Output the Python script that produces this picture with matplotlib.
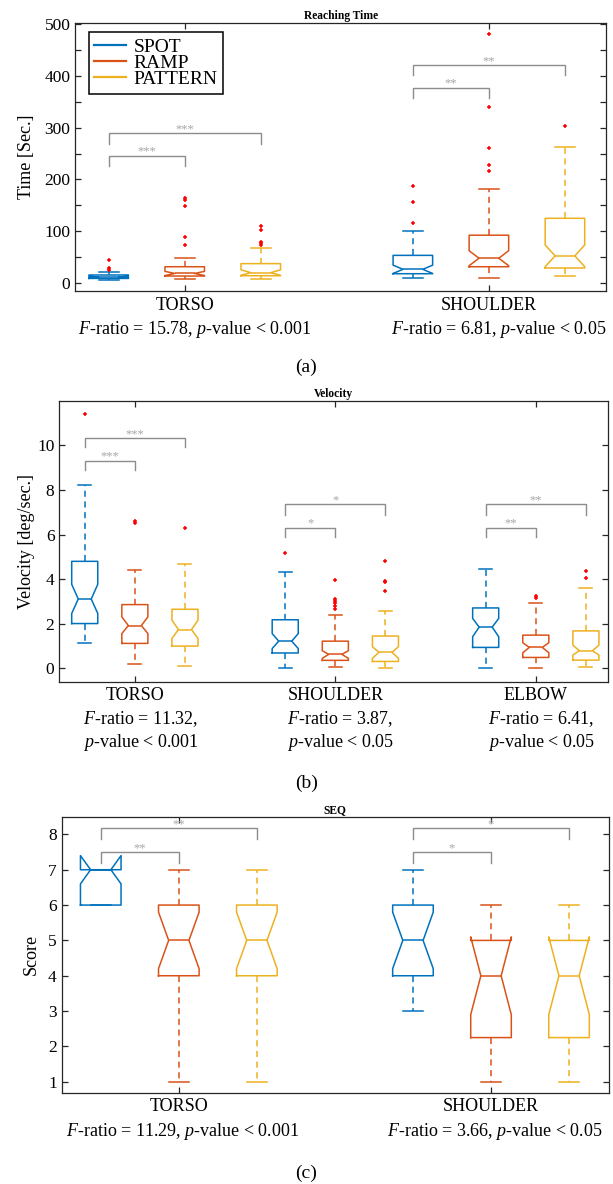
import matplotlib
matplotlib.use('Agg')
import matplotlib.pyplot as plt
from matplotlib.lines import Line2D
from matplotlib.ticker import MultipleLocator

plt.rcParams['font.family'] = ['Liberation Serif', 'DejaVu Serif']
plt.rcParams['mathtext.fontset'] = 'custom'
plt.rcParams['mathtext.rm'] = 'Liberation Serif'
plt.rcParams['mathtext.it'] = 'Liberation Serif:italic'

conditions = ['SPOT', 'RAMP', 'PATTERN']
colors = ['#0072BD', '#D95319', '#EDB120']

# ---------------- Panel (a): Reaching Time ----------------
reach_groups = ['TORSO', 'SHOULDER']
reach_stats_text = ['$F$-ratio = 15.78, $p$-value < 0.001',
                    '$F$-ratio = 6.81, $p$-value < 0.05']
# rows: SPOT, RAMP, PATTERN ; columns: groups
reach_q1 = [[8.4, 17.5], [13, 31], [13.6, 28.6]]
reach_med = [[11, 26], [18, 47.4], [19.5, 52]]
reach_q3 = [[15, 53], [31, 92], [37, 124.7]]
reach_cilo = [[10, 18], [14, 33], [14.5, 31]]
reach_cihi = [[12.5, 34], [22, 62], [25, 73]]
reach_wlo = [[6, 10], [6.5, 10], [8, 12.3]]
reach_whi = [[20, 100.6], [48, 180.5], [68, 261.7]]
reach_out = [[[43.5, 28, 25], [187, 156, 115]],
             [[163, 160, 148, 89, 74], [482, 340, 261, 228.6, 215.6]],
             [[110, 102, 78.6, 76.6, 74], [303]]]
reach_sig_top = [[246, 289], [377, 421]]
reach_sig_leg = [[226.6, 268], [358, 402]]
reach_sig_lbl = [['***', '***'], ['**', '**']]

# ---------------- Panel (b): Velocity ----------------
vel_groups = ['TORSO', 'SHOULDER', 'ELBOW']
vel_stats_text = ['$F$-ratio = 11.32,\n$p$-value < 0.001',
                  '$F$-ratio = 3.87,\n$p$-value < 0.05',
                  '$F$-ratio = 6.41,\n$p$-value < 0.05']
vel_q1 = [[2.01, 0.69, 0.94], [1.12, 0.36, 0.49], [1.0, 0.31, 0.37]]
vel_med = [[3.11, 1.22, 1.85], [1.92, 0.63, 0.94], [1.74, 0.72, 0.79]]
vel_q3 = [[4.80, 2.18, 2.71], [2.86, 1.22, 1.49], [2.65, 1.45, 1.68]]
vel_cilo = [[2.46, 0.89, 1.42], [1.56, 0.45, 0.70], [1.34, 0.45, 0.60]]
vel_cihi = [[3.77, 1.56, 2.24], [2.31, 0.79, 1.15], [2.16, 0.97, 1.04]]
vel_wlo = [[1.15, 0.0, 0.0], [0.19, 0.07, 0.0], [0.12, 0.01, 0.04]]
vel_whi = [[8.23, 4.34, 4.44], [4.41, 2.40, 2.94], [4.69, 2.59, 3.61]]
vel_out = [[[11.4], [5.19], []],
           [[6.59, 6.53], [3.95, 3.11, 3.01, 2.92, 2.80, 2.65], [3.23, 3.17]],
           [[6.3], [4.8, 3.93, 3.87, 3.47], [4.35, 4.05]]]
vel_sig_top = [[9.31, 10.33], [6.30, 7.35], [6.30, 7.35]]
vel_sig_leg = [[8.91, 9.91], [5.89, 6.90], [5.89, 6.90]]
vel_sig_lbl = [['***', '***'], ['*', '*'], ['**', '**']]

# ---------------- Panel (c): SEQ ----------------
seq_groups = ['TORSO', 'SHOULDER']
seq_stats_text = ['$F$-ratio = 11.29, $p$-value < 0.001',
                  '$F$-ratio = 3.66, $p$-value < 0.05']
seq_q1 = [[6, 4], [4, 2.25], [4, 2.25]]
seq_med = [[7, 5], [5, 4], [5, 4]]
seq_q3 = [[7, 6], [6, 5], [6, 5]]
seq_cilo = [[6.6, 4.2], [4.2, 2.9], [4.2, 2.9]]
seq_cihi = [[7.4, 5.8], [5.8, 5.1], [5.8, 5.1]]
seq_wlo = [[6, 3], [1, 1], [1, 1]]
seq_whi = [[7, 7], [7, 6], [7, 6]]
seq_out = [[[], []], [[], []], [[], []]]
seq_sig_top = [[7.5, 8.17], [7.5, 8.17]]
seq_sig_leg = [[7.2, 7.87], [7.2, 7.87]]
seq_sig_lbl = [['**', '**'], ['*', '*']]

OFFSETS = [-0.25, 0.0, 0.25]
BOXW = 0.13
GRAY = '#8c8c8c'
STARC = '#a6a6a6'

fig = plt.figure(figsize=(6.13, 11.84), dpi=100)


def draw_boxes(ax, groups, q1, med, q3, cilo, cihi, wlo, whi, out):
    for ci, c in enumerate(colors):
        stats = []
        pos = []
        for gi in range(len(groups)):
            stats.append(dict(med=med[ci][gi], q1=q1[ci][gi], q3=q3[ci][gi],
                              cilo=cilo[ci][gi], cihi=cihi[ci][gi],
                              whislo=wlo[ci][gi], whishi=whi[ci][gi],
                              fliers=out[ci][gi]))
            pos.append(gi + 1 + OFFSETS[ci])
        ax.bxp(stats, positions=pos, widths=BOXW, shownotches=True,
               manage_ticks=False,
               boxprops=dict(color=c, lw=1.1),
               whiskerprops=dict(color=c, lw=1.1, linestyle=(0, (4, 3))),
               capprops=dict(color=c, lw=1.1),
               medianprops=dict(color=c, lw=1.1),
               flierprops=dict(marker='+', markeredgecolor='red',
                               markerfacecolor='red', markersize=3.2,
                               markeredgewidth=1.1, linestyle='none'))


def draw_sig(ax, groups, tops, legs, lbls):
    for gi in range(len(groups)):
        x1 = gi + 1 + OFFSETS[0]
        for k, cj in enumerate([1, 2]):
            x2 = gi + 1 + OFFSETS[cj]
            t = tops[gi][k]
            l = legs[gi][k]
            ax.plot([x1, x1, x2, x2], [l, t, t, l], color=GRAY, lw=1.0,
                    solid_joinstyle='miter')
            ax.annotate(lbls[gi][k], xy=((x1 + x2) / 2, t), xytext=(0, 0.8),
                        textcoords='offset points', ha='center',
                        va='baseline', fontsize=9, color=STARC)


def style_axes(ax, groups, title):
    for s in ax.spines.values():
        s.set_color('#262626')
        s.set_linewidth(0.9)
    ax.tick_params(which='both', direction='in', top=True, right=True,
                   length=4.5, width=0.9, color='#262626', labelsize=12.5)
    ax.set_xticks(range(1, len(groups) + 1))
    ax.set_xticklabels(groups, fontsize=13)
    ax.tick_params(axis='x', pad=4)
    ax.set_title(title, fontsize=8.3, fontweight='bold', pad=2.5)


# ---- (a)
axA = fig.add_axes([0.1227, 0.7542, 0.8659, 0.2266])
draw_boxes(axA, reach_groups, reach_q1, reach_med, reach_q3, reach_cilo,
           reach_cihi, reach_wlo, reach_whi, reach_out)
draw_sig(axA, reach_groups, reach_sig_top, reach_sig_leg, reach_sig_lbl)
axA.set_xlim(0.64, 2.385)
axA.set_ylim(-16, 503)
axA.yaxis.set_major_locator(MultipleLocator(100))
axA.yaxis.set_minor_locator(MultipleLocator(50))
style_axes(axA, reach_groups, 'Reaching Time')
axA.set_ylabel('Time [Sec.]', fontsize=13, labelpad=7)
for gi, t in enumerate(reach_stats_text):
    axA.annotate(t, xy=(gi + 1, 0), xycoords=('data', 'axes fraction'),
                 xytext=(7, -28), textcoords='offset points', ha='center',
                 va='center', fontsize=13)
handles = [Line2D([0], [0], color=c, lw=1.6) for c in colors]
leg = axA.legend(handles, conditions, loc='upper left',
                 bbox_to_anchor=(0.0252, 0.965), borderaxespad=0,
                 fancybox=False, edgecolor='black', framealpha=1,
                 fontsize=14, handlelength=1.6, handletextpad=0.4,
                 labelspacing=-0.08, borderpad=0.3)
leg.get_frame().set_linewidth(1.1)
fig.text(0.5, 1 - 367 / 1184, '(a)', ha='center', va='center', fontsize=14)

# ---- (b)
axB = fig.add_axes([0.0967, 0.4242, 0.8951, 0.2373])
draw_boxes(axB, vel_groups, vel_q1, vel_med, vel_q3, vel_cilo, vel_cihi,
           vel_wlo, vel_whi, vel_out)
draw_sig(axB, vel_groups, vel_sig_top, vel_sig_leg, vel_sig_lbl)
axB.set_xlim(0.623, 3.36)
axB.set_ylim(-0.6, 12)
axB.set_yticks([0, 2, 4, 6, 8, 10])
style_axes(axB, vel_groups, 'Velocity')
axB.set_ylabel('Velocity [deg/sec.]', fontsize=13, labelpad=1.5)
for gi, t in enumerate(vel_stats_text):
    axB.annotate(t, xy=(gi + 1, 0), xycoords=('data', 'axes fraction'),
                 xytext=(4, -35.5), textcoords='offset points', ha='center',
                 va='center', fontsize=13, multialignment='left',
                 linespacing=1.25)
fig.text(0.5, 1 - 783 / 1184, '(b)', ha='center', va='center', fontsize=14)

# ---- (c)
axC = fig.add_axes([0.1007, 0.0771, 0.8928, 0.2331])
draw_boxes(axC, seq_groups, seq_q1, seq_med, seq_q3, seq_cilo, seq_cihi,
           seq_wlo, seq_whi, seq_out)
draw_sig(axC, seq_groups, seq_sig_top, seq_sig_leg, seq_sig_lbl)
axC.set_xlim(0.625, 2.378)
axC.set_ylim(0.69, 8.5)
axC.set_yticks(range(1, 9))
style_axes(axC, seq_groups, 'SEQ')
axC.set_ylabel('Score', fontsize=13, labelpad=6)
for gi, t in enumerate(seq_stats_text):
    axC.annotate(t, xy=(gi + 1, 0), xycoords=('data', 'axes fraction'),
                 xytext=(3, -28), textcoords='offset points', ha='center',
                 va='center', fontsize=13)
fig.text(0.5, 1 - 1173 / 1184, '(c)', ha='center', va='center', fontsize=14)

fig.savefig('out.png', dpi=100)
